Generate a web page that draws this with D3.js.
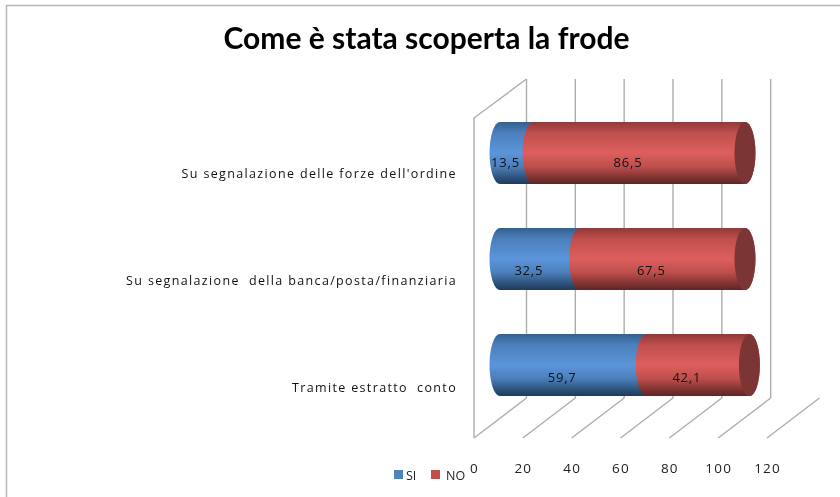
<!DOCTYPE html>
<html>
<head>
<meta charset="utf-8">
<script src="https://cdn.jsdelivr.net/npm/d3@7"></script>
<style>
html, body { margin: 0; padding: 0; background: #fff; overflow: hidden; }
svg { display: block; filter: blur(0.35px); }
</style>
</head>
<body>
<svg id="chart" width="840" height="497"></svg>
<script>
var categories = ["Su segnalazione delle forze dell'ordine", "Su segnalazione  della banca/posta/finanziaria", "Tramite estratto  conto"];
var si_values = [13.5, 32.5, 59.7];
var no_values = [86.5, 67.5, 42.1];
var tick_values = [0, 20, 40, 60, 80, 100, 120];
var back_wall_ticks = [0, 20, 40, 60, 80, 100];
var legend_names = ["SI", "NO"];
var chart_title = "Come è stata scoperta la frode";

var svg = d3.select("#chart");
var comma = d3.formatLocale({decimal: ",", thousands: ".", grouping: [3], currency: ["", ""]}).format(".1f");

var grid_color = "#adadad";
var font = "'Open Sans', sans-serif";

// frame around the chart
svg.append("path")
    .attr("d", "M6.5,497V5.5H840")
    .attr("fill", "none")
    .attr("stroke", "#b8b8b8")
    .attr("stroke-width", 1.5);

svg.append("text")
    .attr("x", 426.5)
    .attr("y", 49)
    .attr("text-anchor", "middle")
    .style("font-family", "Lato, sans-serif")
    .style("font-weight", "bold")
    .style("font-size", "30px")
    .style("fill", "#000")
    .text(chart_title);

// three scales: front of the floor, back wall and the bars in the middle
var x_front = d3.scaleLinear().domain([0, 120]).range([474, 767]);
var x_back = d3.scaleLinear().domain([0, 120]).range([526.5, 819.5]);
var x_bar = d3.scaleLinear().domain([0, 120]).range([500, 794]);
var y_bar = d3.scaleBand().domain(categories).range([78, 440]).padding(0.415);

var floor_front = 438, floor_back = 398, wall_top = 79;

var grid = svg.append("g")
    .attr("fill", "none")
    .attr("stroke", grid_color)
    .attr("stroke-width", 1.4);

grid.selectAll(".back")
    .data(back_wall_ticks)
    .enter()
    .append("line")
    .attr("x1", function(d){ return x_back(d); })
    .attr("x2", function(d){ return x_back(d); })
    .attr("y1", wall_top)
    .attr("y2", floor_back);

grid.selectAll(".floor")
    .data(tick_values)
    .enter()
    .append("line")
    .attr("x1", function(d){ return x_front(d); })
    .attr("x2", function(d){ return x_back(d); })
    .attr("y1", floor_front)
    .attr("y2", floor_back);

// side wall
grid.append("path")
    .attr("d", "M" + x_front(0) + "," + floor_front + "V118L" + x_back(0) + "," + wall_top);

var defs = svg.append("defs");

function add_gradient(id, stops){
    var g = defs.append("linearGradient")
        .attr("id", id)
        .attr("x1", 0).attr("x2", 0)
        .attr("y1", 0).attr("y2", 1);
    stops.forEach(function(s){
        g.append("stop").attr("offset", s[0]).attr("stop-color", s[1]);
    });
}

add_gradient("blue_grad", [[0, "#35608f"], [0.18, "#4c80bd"], [0.5, "#5b95da"], [0.72, "#4b7fbb"], [0.9, "#2d5179"], [1, "#1f3a5b"]]);
add_gradient("red_grad", [[0, "#8f3a39"], [0.18, "#c04f4d"], [0.5, "#dd5f5d"], [0.72, "#be4e4c"], [0.9, "#7d3231"], [1, "#5e2524"]]);

var rx = 10.5;

function segment_path(x0, x1, top, bottom){
    var ry = (bottom - top) / 2;
    return "M" + x0 + "," + top + "L" + x1 + "," + top
        + "A" + rx + "," + ry + " 0 0 1 " + x1 + "," + bottom
        + "L" + x0 + "," + bottom
        + "A" + rx + "," + ry + " 0 0 1 " + x0 + "," + top + "Z";
}

var bars = svg.selectAll(".bar")
    .data(categories)
    .enter()
    .append("g")
    .attr("class", "bar");

bars.append("path")
    .attr("fill", "url(#blue_grad)")
    .attr("d", function(d, i){
        return segment_path(x_bar(0), x_bar(si_values[i]), y_bar(d), y_bar(d) + y_bar.bandwidth());
    });

bars.append("path")
    .attr("fill", "url(#red_grad)")
    .attr("d", function(d, i){
        return segment_path(x_bar(si_values[i]), x_bar(si_values[i] + no_values[i]), y_bar(d), y_bar(d) + y_bar.bandwidth());
    });

bars.append("ellipse")
    .attr("fill", "#7b3534")
    .attr("cx", function(d, i){ return x_bar(si_values[i] + no_values[i]); })
    .attr("cy", function(d){ return y_bar(d) + y_bar.bandwidth() / 2; })
    .attr("rx", rx)
    .attr("ry", y_bar.bandwidth() / 2);

function add_value_labels(values, start){
    bars.append("text")
        .attr("x", function(d, i){ return x_bar(start(i) + values[i] / 2) - 11; })
        .attr("y", function(d, i){ return y_bar(d) + y_bar.bandwidth() / 2 + 14 + i * 1.5; })
        .attr("text-anchor", "middle")
        .style("font-family", font)
        .style("font-size", "13px")
        .style("letter-spacing", "0.8px")
        .style("fill", "#111")
        .text(function(d, i){ return comma(values[i]); });
}

add_value_labels(si_values, function(){ return 0; });
add_value_labels(no_values, function(i){ return si_values[i]; });

bars.append("text")
    .attr("x", 457)
    .attr("y", function(d, i){ return y_bar(d) + y_bar.bandwidth() / 2 + 25 + i * 1.2; })
    .attr("text-anchor", "end")
    .attr("xml:space", "preserve")
    .style("white-space", "pre")
    .style("font-family", font)
    .style("font-size", "12.5px")
    .style("letter-spacing", "1.35px")
    .style("fill", "#111")
    .text(function(d){ return d; });

// value axis below the floor
var axis = svg.append("g")
    .attr("transform", "translate(0,460)")
    .call(d3.axisBottom(x_front).tickValues(tick_values).tickSize(0).tickPadding(3));
axis.select(".domain").remove();
axis.selectAll("text")
    .style("font-family", font)
    .style("font-size", "13.5px")
    .style("letter-spacing", "1.2px")
    .style("fill", "#222");

// legend
var legend_colors = ["#4f81bd", "#c0504d"];
var legend_x = d3.scaleOrdinal().domain(legend_names).range([394, 431]);
var legend = svg.selectAll(".legend")
    .data(legend_names)
    .enter()
    .append("g")
    .attr("class", "legend")
    .attr("transform", function(d){ return "translate(" + legend_x(d) + ",470)"; });

legend.append("rect")
    .attr("width", 9)
    .attr("height", 9)
    .attr("fill", function(d, i){ return legend_colors[i]; });

legend.append("text")
    .attr("x", function(d){ return d == "SI" ? 12 : 15; })
    .attr("y", 9.5)
    .style("font-family", font)
    .style("font-size", "12.5px")
    .style("fill", "#222")
    .text(function(d){ return d; });
</script>
</body>
</html>
